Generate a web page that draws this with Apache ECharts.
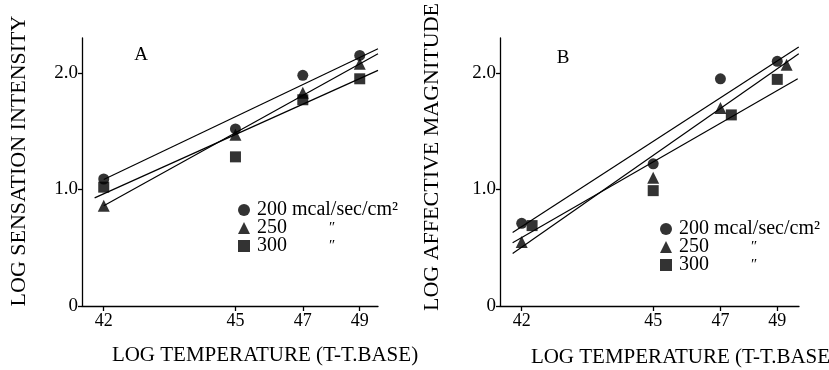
<!DOCTYPE html>
<html>
<head>
<meta charset="utf-8">
<script src="https://cdn.jsdelivr.net/npm/echarts@6/dist/echarts.min.js"></script>
<style>html,body{margin:0;padding:0;background:#fff}#main{width:829px;height:370px}</style>
</head>
<body>
<div id="main"></div>
<script>
var TBASE = 35;
var xTicks = [42, 45, 47, 49];
var yTicks = [0, 1, 2];
var legendLabels = ['200 mcal/sec/cm²', '250', '300'];

// panel A - log sensation intensity
var tempA = [42, 45, 47, 49];
var a200 = [1.09, 1.52, 1.98, 2.15];
var a250 = [0.86, 1.47, 1.83, 2.08];
var a300 = [1.02, 1.28, 1.77, 1.95];
var fitA200 = [[42, 1.086], [49.71, 2.208]];
var fitA250 = [[42, 0.86], [49.71, 2.165]];
var fitA300 = [[41.83, 0.928], [49.71, 2.022]];

// panel B - log affective magnitude
var tempB200 = [42, 45, 47, 49];
var tempB250 = [42, 45, 47, 49.36];
var tempB300 = [42.2, 45, 47.36, 49];
var b200 = [0.71, 1.22, 1.95, 2.10];
var b250 = [0.55, 1.10, 1.70, 2.07];
var b300 = [0.69, 0.99, 1.64, 1.945];
var fitB200 = [[41.83, 0.63], [49.84, 2.222]];
var fitB250 = [[41.83, 0.45], [49.84, 2.165]];
var fitB300 = [[41.83, 0.542], [49.8, 1.951]];

var SERIF = '"Liberation Serif", "DejaVu Serif", serif';

function lx(t) { return Math.log10(t - TBASE); }

function pts(temps, vals) {
    return temps.map(function (t, i) { return [lx(t), vals[i]]; });
}
function fit(pairs) {
    return pairs.map(function (p) { return [lx(p[0]), p[1]]; });
}

function makeX(idx, minT, maxT) {
    var ticks = xTicks.map(lx);
    return {
        type: 'value',
        gridIndex: idx,
        min: lx(minT),
        max: lx(maxT),
        splitLine: { show: false },
        axisLine: { onZero: false, lineStyle: { color: '#000', width: 1.3 } },
        axisTick: { customValues: ticks, length: 5, lineStyle: { color: '#000', width: 1.3 } },
        axisLabel: {
            customValues: ticks,
            margin: 6,
            color: '#000',
            fontFamily: SERIF,
            fontSize: 18,
            formatter: function (v) { return Math.round(Math.pow(10, v) + TBASE); }
        }
    };
}

function makeY(idx) {
    return {
        type: 'value',
        gridIndex: idx,
        min: 0,
        max: 2.3,
        splitLine: { show: false },
        axisLine: { lineStyle: { color: '#000', width: 1.3 } },
        axisTick: { customValues: yTicks, length: 4, lineStyle: { color: '#000', width: 1.3 } },
        axisLabel: {
            customValues: yTicks,
            margin: 4,
            color: '#000',
            fontFamily: SERIF,
            fontSize: 19,
            formatter: function (v) { return v === 0 ? '0' : v.toFixed(1); }
        }
    };
}

var symbols = ['circle', 'triangle', 'rect'];
var symSizes = [11, 12, 11];

function scatter(idx, k, data) {
    return {
        name: legendLabels[k],
        type: 'scatter',
        xAxisIndex: idx,
        yAxisIndex: idx,
        symbol: symbols[k],
        symbolSize: symSizes[k],
        itemStyle: { color: '#000' },
        data: data,
        z: 3
    };
}
function fitLine(idx, data) {
    return {
        type: 'line',
        xAxisIndex: idx,
        yAxisIndex: idx,
        showSymbol: false,
        silent: true,
        lineStyle: { color: '#000', width: 1.2 },
        data: data
    };
}

function makeLegend(left, top) {
    return {
        left: left,
        top: top,
        orient: 'vertical',
        itemWidth: 12,
        itemHeight: 12,
        itemGap: -2,
        selectedMode: false,
        data: legendLabels.map(function (n, k) {
            return { name: n, icon: symbols[k], itemStyle: { color: '#000' } };
        }),
        formatter: function (name) {
            if (name === legendLabels[0]) return '{t|' + name + '}';
            return '{w|' + name + '}{q|″}';
        },
        textStyle: {
            rich: {
                t: { fontFamily: SERIF, fontSize: 20, color: '#000', lineHeight: 18, padding: [0, 0, 0, 2] },
                w: { fontFamily: SERIF, fontSize: 20, color: '#000', lineHeight: 18, width: 72, padding: [0, 0, 0, 2] },
                q: { fontFamily: SERIF, fontSize: 15, color: '#000', lineHeight: 18 }
            }
        }
    };
}

var myChart = echarts.init(document.getElementById('main'), null, { renderer: 'canvas' });

var option = {
    animation: false,
    backgroundColor: '#fff',
    grid: [
        { left: 82, width: 296, top: 38, height: 268 },
        { left: 500, width: 299, top: 38, height: 268 }
    ],
    xAxis: [makeX(0, 41.6, 49.71), makeX(1, 41.6, 49.85)],
    yAxis: [makeY(0), makeY(1)],
    legend: [makeLegend(233, 195), makeLegend(655, 214)],
    graphic: [
        { type: 'text', x: 19, y: 161, rotation: Math.PI / 2,
          style: { text: 'LOG SENSATION INTENSITY', font: '22px ' + SERIF, fill: '#000', align: 'center', verticalAlign: 'middle' } },
        { type: 'text', x: 432, y: 157, rotation: Math.PI / 2,
          style: { text: 'LOG AFFECTIVE MAGNITUDE', font: '22px ' + SERIF, fill: '#000', align: 'center', verticalAlign: 'middle' } },
        { type: 'text', x: 265, y: 355,
          style: { text: 'LOG TEMPERATURE (T-T.BASE)', font: '21px ' + SERIF, fill: '#000', align: 'center', verticalAlign: 'middle' } },
        { type: 'text', x: 684, y: 357,
          style: { text: 'LOG TEMPERATURE (T-T.BASE)', font: '21px ' + SERIF, fill: '#000', align: 'center', verticalAlign: 'middle' } },
        { type: 'text', x: 141, y: 55,
          style: { text: 'A', font: '19px ' + SERIF, fill: '#000', align: 'center', verticalAlign: 'middle' } },
        { type: 'text', x: 563, y: 58,
          style: { text: 'B', font: '19px ' + SERIF, fill: '#000', align: 'center', verticalAlign: 'middle' } }
    ],
    series: [
        fitLine(0, fit(fitA200)),
        fitLine(0, fit(fitA250)),
        fitLine(0, fit(fitA300)),
        scatter(0, 0, pts(tempA, a200)),
        scatter(0, 1, pts(tempA, a250)),
        scatter(0, 2, pts(tempA, a300)),
        fitLine(1, fit(fitB200)),
        fitLine(1, fit(fitB250)),
        fitLine(1, fit(fitB300)),
        scatter(1, 0, pts(tempB200, b200)),
        scatter(1, 1, pts(tempB250, b250)),
        scatter(1, 2, pts(tempB300, b300))
    ]
};

myChart.setOption(option);
</script>
</body>
</html>
